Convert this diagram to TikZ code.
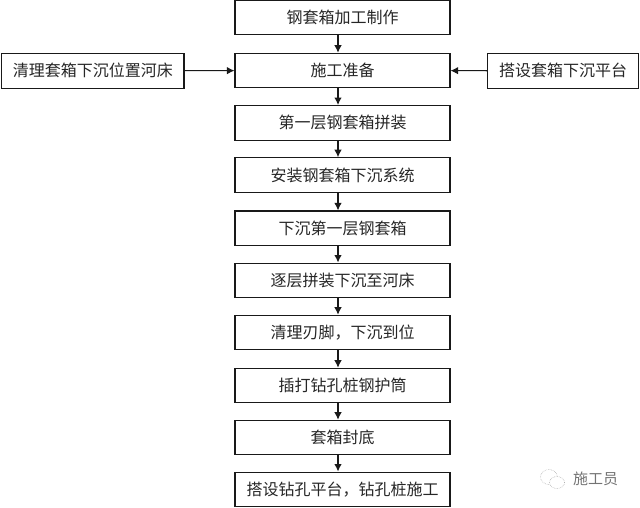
\documentclass[tikz,border=0pt]{standalone}
\usepackage{fontspec}
\newfontfamily\cjk{Noto Sans CJK SC}[Scale=1]
\usetikzlibrary{arrows.meta}
\tikzset{
 flowbox/.style={draw=black!90,line width=1.1pt,fill=white,minimum height=34.5pt,inner sep=0pt,font=\cjk\fontsize{16}{16}\selectfont,text=black!85},
 mainbox/.style={flowbox,minimum width=215pt},
 flowarrow/.style={draw=black!90,line width=1.1pt,-{Latex[length=7.5pt,width=7.5pt]}},
 wmtext/.style={inner sep=0pt,font=\cjk\fontsize{15}{15}\selectfont,text=black!55}
}
\begin{document}
\begin{tikzpicture}[x=1pt,y=-1pt]
\useasboundingbox (0,0) rectangle (640,507);
\coordinate (ax) at (338,0);
\node[mainbox] (a) at (342.5,17.5) {钢套箱加工制作};
\node[mainbox] (b) at (342.5,70.5) {施工准备};
\node[mainbox] (c) at (342.5,122.8) {第一层钢套箱拼装};
\node[mainbox] (d) at (342.5,175) {安装钢套箱下沉系统};
\node[mainbox] (e) at (342.5,228.2) {下沉第一层钢套箱};
\node[mainbox] (f) at (342.5,280.3) {逐层拼装下沉至河床};
\node[mainbox] (g) at (342.5,332.5) {清理刃脚，下沉到位};
\node[mainbox] (h) at (342.5,385.5) {插打钻孔桩钢护筒};
\node[mainbox] (i) at (342.5,437.5) {套箱封底};
\node[mainbox] (j) at (342.5,489.3) {搭设钻孔平台，钻孔桩施工};
\node[flowbox,minimum width=182.5pt] (l) at (92.75,70.8) {清理套箱下沉位置河床};
\node[flowbox,minimum width=151pt] (r) at (563,70.8) {搭设套箱下沉平台};
\draw[flowarrow] (a.south -| ax) -- (b.north -| ax);
\draw[flowarrow] (b.south -| ax) -- (c.north -| ax);
\draw[flowarrow] (c.south -| ax) -- (d.north -| ax);
\draw[flowarrow] (d.south -| ax) -- (e.north -| ax);
\draw[flowarrow] (e.south -| ax) -- (f.north -| ax);
\draw[flowarrow] (f.south -| ax) -- (g.north -| ax);
\draw[flowarrow] (g.south -| ax) -- (h.north -| ax);
\draw[flowarrow] (h.south -| ax) -- (i.north -| ax);
\draw[flowarrow] (i.south -| ax) -- (j.north -| ax);
\draw[flowarrow] (l) -- (b);
\draw[flowarrow] (r) -- (b);
\draw[black!30,line width=0.6pt,densely dotted] (549,477) ellipse (8.5pt and 7.5pt);
\draw[black!30,line width=0.6pt,densely dotted,fill=white] (557,482.5) ellipse (7.5pt and 6pt);
\node[wmtext] (w) at (595.5,479) {施工员};
\end{tikzpicture}
\end{document}
